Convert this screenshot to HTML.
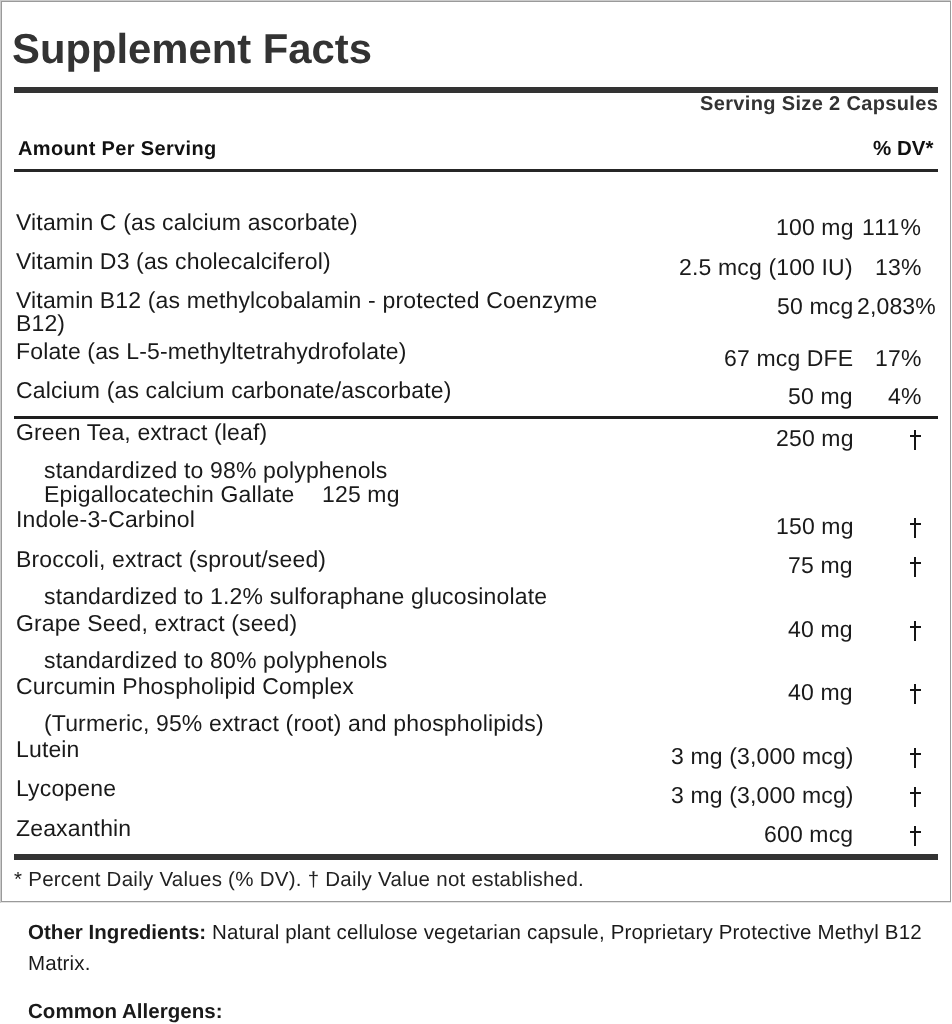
<!DOCTYPE html>
<html><head><meta charset="utf-8"><style>
html,body{margin:0;padding:0;background:#fff;width:952px;height:1024px;overflow:hidden;position:relative}
.t{position:absolute;white-space:nowrap;font-family:"Liberation Sans",sans-serif;text-rendering:geometricPrecision;will-change:transform}
.r{position:absolute}
</style></head><body>
<div class="r" style="left:0px;top:0px;width:951px;height:1px;background:#cbcbcb"></div>
<div class="r" style="left:0px;top:0px;width:1px;height:903px;background:#cbcbcb"></div>
<div class="r" style="left:1px;top:1px;width:950px;height:1px;background:#9a9a9a"></div>
<div class="r" style="left:1px;top:1px;width:1px;height:901px;background:#9a9a9a"></div>
<div class="r" style="left:950px;top:1px;width:1px;height:901px;background:#9a9a9a"></div>
<div class="r" style="left:1px;top:901px;width:950px;height:1px;background:#9a9a9a"></div>
<div class="r" style="left:1px;top:902px;width:950px;height:1px;background:#e4e4e4"></div>
<div class="t" style="left:12.3px;top:25px;height:47px;line-height:47px;font-size:41.8px;font-weight:700;color:#333;">Supplement Facts</div>
<div class="r" style="left:14px;top:87px;width:924px;height:6px;background:#333"></div>
<div class="t" style="right:14.15px;top:93px;height:22px;line-height:22px;font-size:20px;font-weight:700;color:#333;letter-spacing:0.35px;">Serving Size 2 Capsules</div>
<div class="t" style="left:18px;top:138px;height:22px;line-height:22px;font-size:20px;font-weight:700;color:#111;letter-spacing:0.35px;">Amount Per Serving</div>
<div class="t" style="right:19px;top:137px;height:23px;line-height:23px;font-size:20.5px;font-weight:700;color:#111;">% DV*</div>
<div class="r" style="left:14px;top:169px;width:924px;height:3px;background:#262626"></div>
<div class="t" style="left:16px;top:209px;height:26px;line-height:26px;font-size:23.0px;font-weight:400;color:#1a1a1a;letter-spacing:0.15px;">Vitamin C (as calcium ascorbate)</div>
<div class="t" style="right:98.85px;top:214px;height:26px;line-height:26px;font-size:23.0px;font-weight:400;color:#1a1a1a;letter-spacing:0.15px;">100 mg</div>
<div class="t" style="right:29.85px;top:214px;height:26px;line-height:26px;font-size:23.0px;font-weight:400;color:#1a1a1a;letter-spacing:1.15px;">111%</div>
<div class="t" style="left:16px;top:248px;height:26px;line-height:26px;font-size:23.0px;font-weight:400;color:#1a1a1a;letter-spacing:0.15px;">Vitamin D3 (as cholecalciferol)</div>
<div class="t" style="right:98.85px;top:254px;height:26px;line-height:26px;font-size:23.0px;font-weight:400;color:#1a1a1a;letter-spacing:0.15px;">2.5 mcg (100 IU)</div>
<div class="t" style="right:30.85px;top:254px;height:26px;line-height:26px;font-size:23.0px;font-weight:400;color:#1a1a1a;letter-spacing:0.15px;">13%</div>
<div class="t" style="left:16px;top:287px;height:26px;line-height:26px;font-size:23.0px;font-weight:400;color:#1a1a1a;letter-spacing:0.15px;">Vitamin B12 (as methylcobalamin - protected Coenzyme</div>
<div class="t" style="right:98.85px;top:293px;height:26px;line-height:26px;font-size:23.0px;font-weight:400;color:#1a1a1a;letter-spacing:0.15px;">50 mcg</div>
<div class="t" style="left:856.8px;top:293px;height:26px;line-height:26px;font-size:23.0px;font-weight:400;color:#1a1a1a;letter-spacing:0.15px;">2,083%</div>
<div class="t" style="left:16px;top:310px;height:26px;line-height:26px;font-size:23.0px;font-weight:400;color:#1a1a1a;letter-spacing:0.15px;">B12)</div>
<div class="t" style="left:16px;top:338px;height:26px;line-height:26px;font-size:23.0px;font-weight:400;color:#1a1a1a;letter-spacing:0.15px;">Folate (as L-5-methyltetrahydrofolate)</div>
<div class="t" style="right:98.85px;top:345px;height:26px;line-height:26px;font-size:23.0px;font-weight:400;color:#1a1a1a;letter-spacing:0.15px;">67 mcg DFE</div>
<div class="t" style="right:30.85px;top:345px;height:26px;line-height:26px;font-size:23.0px;font-weight:400;color:#1a1a1a;letter-spacing:0.15px;">17%</div>
<div class="t" style="left:16px;top:377px;height:26px;line-height:26px;font-size:23.0px;font-weight:400;color:#1a1a1a;letter-spacing:0.15px;">Calcium (as calcium carbonate/ascorbate)</div>
<div class="t" style="right:98.85px;top:383px;height:26px;line-height:26px;font-size:23.0px;font-weight:400;color:#1a1a1a;letter-spacing:0.15px;">50 mg</div>
<div class="t" style="right:30.85px;top:383px;height:26px;line-height:26px;font-size:23.0px;font-weight:400;color:#1a1a1a;letter-spacing:0.15px;">4%</div>
<div class="t" style="left:16px;top:419px;height:26px;line-height:26px;font-size:23.0px;font-weight:400;color:#1a1a1a;letter-spacing:0.15px;">Green Tea, extract (leaf)</div>
<div class="t" style="right:98.85px;top:425px;height:26px;line-height:26px;font-size:23.0px;font-weight:400;color:#1a1a1a;letter-spacing:0.15px;">250 mg</div>
<div class="r" style="left:914.40px;top:430.30px;width:1.8px;height:20.00px;background:#151515"></div>
<div class="r" style="left:910.10px;top:435.40px;width:11px;height:2px;background:#151515"></div>
<div class="t" style="left:16px;top:457px;height:26px;line-height:26px;font-size:23.0px;font-weight:400;color:#1a1a1a;letter-spacing:0.15px;"><span style="display:inline-block;width:28px"></span>standardized to 98% polyphenols</div>
<div class="t" style="left:16px;top:481px;height:26px;line-height:26px;font-size:23.0px;font-weight:400;color:#1a1a1a;letter-spacing:0.15px;"><span style="display:inline-block;width:28px"></span>Epigallocatechin Gallate</div>
<div class="t" style="left:16px;top:506px;height:26px;line-height:26px;font-size:23.0px;font-weight:400;color:#1a1a1a;letter-spacing:0.15px;">Indole-3-Carbinol</div>
<div class="t" style="right:98.85px;top:513px;height:26px;line-height:26px;font-size:23.0px;font-weight:400;color:#1a1a1a;letter-spacing:0.15px;">150 mg</div>
<div class="r" style="left:914.40px;top:518.30px;width:1.8px;height:20.00px;background:#151515"></div>
<div class="r" style="left:910.10px;top:523.40px;width:11px;height:2px;background:#151515"></div>
<div class="t" style="left:16px;top:546px;height:26px;line-height:26px;font-size:23.0px;font-weight:400;color:#1a1a1a;letter-spacing:0.15px;">Broccoli, extract (sprout/seed)</div>
<div class="t" style="right:98.85px;top:552px;height:26px;line-height:26px;font-size:23.0px;font-weight:400;color:#1a1a1a;letter-spacing:0.15px;">75 mg</div>
<div class="r" style="left:914.40px;top:557.30px;width:1.8px;height:20.00px;background:#151515"></div>
<div class="r" style="left:910.10px;top:562.40px;width:11px;height:2px;background:#151515"></div>
<div class="t" style="left:16px;top:583px;height:26px;line-height:26px;font-size:23.0px;font-weight:400;color:#1a1a1a;letter-spacing:0.15px;"><span style="display:inline-block;width:28px"></span>standardized to 1.2% sulforaphane glucosinolate</div>
<div class="t" style="left:16px;top:610px;height:26px;line-height:26px;font-size:23.0px;font-weight:400;color:#1a1a1a;letter-spacing:0.15px;">Grape Seed, extract (seed)</div>
<div class="t" style="right:98.85px;top:616px;height:26px;line-height:26px;font-size:23.0px;font-weight:400;color:#1a1a1a;letter-spacing:0.15px;">40 mg</div>
<div class="r" style="left:914.40px;top:621.30px;width:1.8px;height:20.00px;background:#151515"></div>
<div class="r" style="left:910.10px;top:626.40px;width:11px;height:2px;background:#151515"></div>
<div class="t" style="left:16px;top:647px;height:26px;line-height:26px;font-size:23.0px;font-weight:400;color:#1a1a1a;letter-spacing:0.15px;"><span style="display:inline-block;width:28px"></span>standardized to 80% polyphenols</div>
<div class="t" style="left:16px;top:673px;height:26px;line-height:26px;font-size:23.0px;font-weight:400;color:#1a1a1a;letter-spacing:0.15px;">Curcumin Phospholipid Complex</div>
<div class="t" style="right:98.85px;top:679px;height:26px;line-height:26px;font-size:23.0px;font-weight:400;color:#1a1a1a;letter-spacing:0.15px;">40 mg</div>
<div class="r" style="left:914.40px;top:684.30px;width:1.8px;height:20.00px;background:#151515"></div>
<div class="r" style="left:910.10px;top:689.40px;width:11px;height:2px;background:#151515"></div>
<div class="t" style="left:16px;top:710px;height:26px;line-height:26px;font-size:23.0px;font-weight:400;color:#1a1a1a;letter-spacing:0.15px;"><span style="display:inline-block;width:28px"></span>(Turmeric, 95% extract (root) and phospholipids)</div>
<div class="t" style="left:16px;top:736px;height:26px;line-height:26px;font-size:23.0px;font-weight:400;color:#1a1a1a;letter-spacing:0.15px;">Lutein</div>
<div class="t" style="right:98.85px;top:743px;height:26px;line-height:26px;font-size:23.0px;font-weight:400;color:#1a1a1a;letter-spacing:0.15px;">3 mg (3,000 mcg)</div>
<div class="r" style="left:914.40px;top:748.30px;width:1.8px;height:20.00px;background:#151515"></div>
<div class="r" style="left:910.10px;top:753.40px;width:11px;height:2px;background:#151515"></div>
<div class="t" style="left:16px;top:775px;height:26px;line-height:26px;font-size:23.0px;font-weight:400;color:#1a1a1a;letter-spacing:0.15px;">Lycopene</div>
<div class="t" style="right:98.85px;top:782px;height:26px;line-height:26px;font-size:23.0px;font-weight:400;color:#1a1a1a;letter-spacing:0.15px;">3 mg (3,000 mcg)</div>
<div class="r" style="left:914.40px;top:787.30px;width:1.8px;height:20.00px;background:#151515"></div>
<div class="r" style="left:910.10px;top:792.40px;width:11px;height:2px;background:#151515"></div>
<div class="t" style="left:16px;top:815px;height:26px;line-height:26px;font-size:23.0px;font-weight:400;color:#1a1a1a;letter-spacing:0.15px;">Zeaxanthin</div>
<div class="t" style="right:98.85px;top:821px;height:26px;line-height:26px;font-size:23.0px;font-weight:400;color:#1a1a1a;letter-spacing:0.15px;">600 mcg</div>
<div class="r" style="left:914.40px;top:826.30px;width:1.8px;height:20.00px;background:#151515"></div>
<div class="r" style="left:910.10px;top:831.40px;width:11px;height:2px;background:#151515"></div>
<div class="r" style="left:14px;top:416px;width:924px;height:3px;background:#1e1e1e"></div>
<div class="t" style="left:321.5px;top:481px;height:26px;line-height:26px;font-size:23.0px;font-weight:400;color:#1a1a1a;letter-spacing:0.15px;">125 mg</div>
<div class="r" style="left:14px;top:854px;width:924px;height:6px;background:#333"></div>
<div class="t" style="left:13.5px;top:868px;height:23px;line-height:23px;font-size:20.5px;font-weight:400;color:#222;letter-spacing:0.26px;">* Percent Daily Values (% DV). † Daily Value not established.</div>
<div class="t" style="left:28px;top:921px;height:23px;line-height:23px;font-size:20.5px;font-weight:400;color:#1a1a1a;letter-spacing:0.175px;"><b style='letter-spacing:0.03px'>Other Ingredients:</b> Natural plant cellulose vegetarian capsule, Proprietary Protective Methyl B12</div>
<div class="t" style="left:28px;top:952px;height:23px;line-height:23px;font-size:20.5px;font-weight:400;color:#1a1a1a;letter-spacing:0.15px;">Matrix.</div>
<div class="t" style="left:28px;top:1000px;height:23px;line-height:23px;font-size:20.5px;font-weight:400;color:#1a1a1a;letter-spacing:0.03px;"><b>Common Allergens:</b></div>
</body></html>
